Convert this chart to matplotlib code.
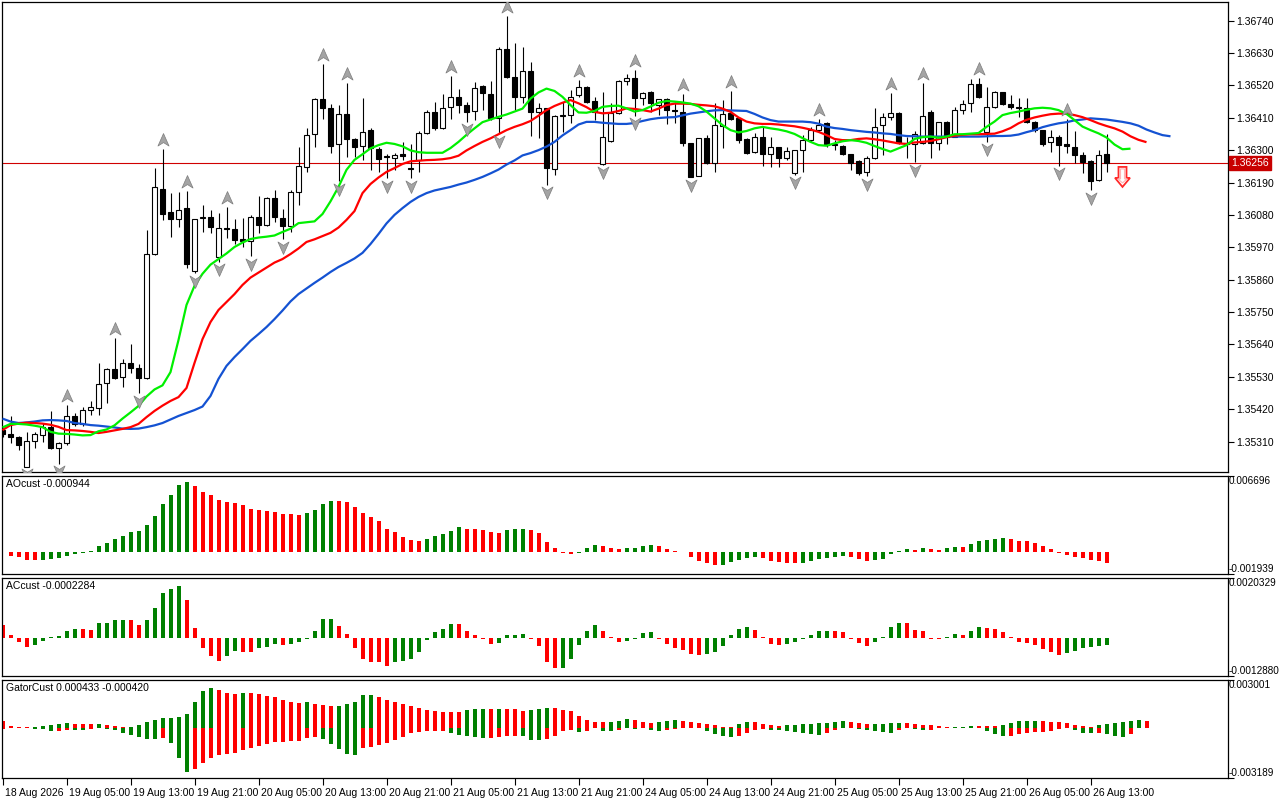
import matplotlib
matplotlib.use('Agg')
import matplotlib.pyplot as plt
from matplotlib.path import Path
from matplotlib.patches import Polygon
import matplotlib.transforms as mtransforms
import numpy as np

# ---------------- DATA ----------------
opens = [1.35349,1.35336,1.35325,1.35225,1.35313,1.35333,1.35359,1.35287,1.35304,1.35397,
 1.35370,1.35417,1.35423,1.35508,1.35557,1.35528,1.35578,1.35559,1.35525,1.35946,
 1.36167,1.36089,1.36065,1.36102,1.35890,1.36070,1.36072,1.35936,1.36035,1.36031,
 1.35998,1.35992,1.36074,1.36046,1.36136,1.36068,1.36042,1.36159,1.36244,1.36354,
 1.36474,1.36442,1.36320,1.36422,1.36337,1.36315,1.36368,1.36304,1.36279,1.36272,
 1.36287,1.36238,1.36267,1.36357,1.36429,1.36374,1.36446,1.36482,1.36453,1.36433,
 1.36518,1.36490,1.36408,1.36643,1.36547,1.36482,1.36570,1.36431,1.36442,1.36235,
 1.36417,1.36419,1.36487,1.36513,1.36467,1.36253,1.36331,1.36425,1.36536,1.36544,
 1.36476,1.36496,1.36453,1.36473,1.36435,1.36431,1.36323,1.36213,1.36340,1.36255,
 1.36383,1.36425,1.36408,1.36338,1.36295,1.36344,1.36286,1.36310,1.36274,1.36221,
 1.36300,1.36334,1.36368,1.36391,1.36321,1.36314,1.36286,1.36263,1.36225,1.36272,
 1.36385,1.36412,1.36425,1.36323,1.36320,1.36323,1.36429,1.36323,1.36397,1.36346,
 1.36436,1.36459,1.36524,1.36361,1.36446,1.36496,1.36456,1.36448,1.36442,1.36397,
 1.36368,1.36327,1.36346,1.36320,1.36312,1.36283,1.36263,1.36197,1.36286]
highs = [1.35363,1.35397,1.35329,1.35344,1.35344,1.35374,1.35415,1.35310,1.35434,1.35406,
 1.35426,1.35448,1.35578,1.35559,1.35661,1.35589,1.35641,1.35573,1.36029,1.36238,
 1.36303,1.36153,1.36159,1.36161,1.36067,1.36114,1.36097,1.36085,1.36108,1.36065,
 1.36068,1.36080,1.36144,1.36142,1.36165,1.36099,1.36165,1.36312,1.36374,1.36476,
 1.36593,1.36457,1.36453,1.36527,1.36340,1.36476,1.36376,1.36312,1.36287,1.36289,
 1.36329,1.36321,1.36365,1.36436,1.36465,1.36490,1.36552,1.36507,1.36465,1.36532,
 1.36520,1.36535,1.36651,1.36756,1.36663,1.36651,1.36600,1.36459,1.36444,1.36419,
 1.36465,1.36504,1.36538,1.36518,1.36482,1.36499,1.36459,1.36538,1.36559,1.36572,
 1.36499,1.36502,1.36475,1.36476,1.36465,1.36491,1.36325,1.36342,1.36351,1.36459,
 1.36470,1.36502,1.36414,1.36340,1.36357,1.36380,1.36344,1.36312,1.36310,1.36302,
 1.36351,1.36380,1.36405,1.36397,1.36334,1.36317,1.36287,1.36267,1.36280,1.36442,
 1.36425,1.36493,1.36430,1.36346,1.36365,1.36527,1.36436,1.36397,1.36399,1.36448,
 1.36470,1.36542,1.36546,1.36516,1.36501,1.36499,1.36487,1.36476,1.36476,1.36399,
 1.36370,1.36368,1.36351,1.36406,1.36365,1.36295,1.36265,1.36300,1.36355]
lows = [1.35326,1.35306,1.35281,1.35224,1.35288,1.35310,1.35285,1.35234,1.35298,1.35363,
 1.35363,1.35400,1.35400,1.35442,1.35522,1.35494,1.35544,1.35474,1.35522,1.35944,
 1.36063,1.36006,1.36040,1.35899,1.35882,1.36023,1.36020,1.35920,1.36001,1.35981,
 1.35972,1.35940,1.36018,1.36042,1.36057,1.35998,1.36023,1.36114,1.36227,1.36312,
 1.36405,1.36289,1.36195,1.36278,1.36278,1.36267,1.36233,1.36227,1.36204,1.36233,
 1.36267,1.36204,1.36227,1.36355,1.36368,1.36372,1.36405,1.36427,1.36397,1.36402,
 1.36436,1.36402,1.36357,1.36544,1.36436,1.36459,1.36348,1.36340,1.36182,1.36216,
 1.36363,1.36391,1.36480,1.36459,1.36402,1.36250,1.36329,1.36423,1.36521,1.36416,
 1.36453,1.36431,1.36419,1.36388,1.36391,1.36314,1.36208,1.36211,1.36253,1.36227,
 1.36306,1.36402,1.36323,1.36287,1.36289,1.36246,1.36244,1.36244,1.36267,1.36216,
 1.36227,1.36329,1.36363,1.36312,1.36300,1.36283,1.36233,1.36216,1.36212,1.36269,
 1.36284,1.36402,1.36321,1.36272,1.36259,1.36321,1.36272,1.36300,1.36320,1.36344,
 1.36422,1.36431,1.36478,1.36329,1.36442,1.36453,1.36440,1.36414,1.36391,1.36363,
 1.36315,1.36295,1.36247,1.36291,1.36256,1.36223,1.36163,1.36195,1.36226]
closes = [1.35336,1.35325,1.35298,1.35312,1.35336,1.35359,1.35287,1.35304,1.35397,1.35370,
 1.35417,1.35426,1.35505,1.35557,1.35525,1.35578,1.35559,1.35525,1.35946,1.36174,
 1.36082,1.36065,1.36097,1.35913,1.36065,1.36072,1.36038,1.36035,1.36031,1.35995,
 1.35991,1.36074,1.36046,1.36136,1.36072,1.36042,1.36159,1.36246,1.36351,1.36474,
 1.36442,1.36315,1.36422,1.36337,1.36312,1.36363,1.36306,1.36271,1.36277,1.36284,
 1.36280,1.36235,1.36357,1.36429,1.36376,1.36442,1.36482,1.36453,1.36429,1.36510,
 1.36493,1.36408,1.36643,1.36549,1.36482,1.36570,1.36431,1.36442,1.36238,1.36416,
 1.36419,1.36482,1.36513,1.36465,1.36431,1.36346,1.36425,1.36536,1.36544,1.36476,
 1.36493,1.36459,1.36473,1.36436,1.36433,1.36325,1.36210,1.36340,1.36255,1.36384,
 1.36423,1.36406,1.36334,1.36291,1.36344,1.36286,1.36310,1.36274,1.36297,1.36300,
 1.36334,1.36368,1.36385,1.36317,1.36317,1.36286,1.36257,1.36223,1.36274,1.36380,
 1.36412,1.36427,1.36323,1.36320,1.36354,1.36417,1.36323,1.36395,1.36346,1.36436,
 1.36456,1.36524,1.36482,1.36446,1.36496,1.36456,1.36448,1.36442,1.36397,1.36368,
 1.36320,1.36344,1.36317,1.36315,1.36283,1.36261,1.36195,1.36283,1.36256]

# Alligator lines (already shifted as displayed)
jaw = [1.35388,1.35378,1.35373,1.35375,1.35378,1.35382,1.35383,1.35382,1.35380,1.35373,
 1.35370,1.35366,1.35364,1.35361,1.35358,1.35354,1.35353,1.35354,1.35359,1.35365,
 1.35373,1.35385,1.35397,1.35407,1.35417,1.35429,1.35465,1.35523,1.35567,1.35597,
 1.35624,1.35652,1.35675,1.35699,1.35726,1.35755,1.35786,1.35811,1.35830,1.35849,
 1.35867,1.35886,1.35903,1.35917,1.35932,1.35951,1.35981,1.36015,1.36051,1.36080,
 1.36103,1.36124,1.36141,1.36154,1.36163,1.36169,1.36175,1.36183,1.36190,1.36199,
 1.36209,1.36221,1.36234,1.36251,1.36265,1.36282,1.36290,1.36300,1.36312,1.36328,
 1.36350,1.36368,1.36387,1.36396,1.36396,1.36393,1.36391,1.36389,1.36389,1.36392,
 1.36399,1.36405,1.36409,1.36411,1.36412,1.36418,1.36424,1.36428,1.36432,1.36435,
 1.36436,1.36435,1.36434,1.36433,1.36423,1.36411,1.36402,1.36397,1.36397,1.36397,
 1.36397,1.36395,1.36390,1.36380,1.36375,1.36372,1.36368,1.36365,1.36362,1.36360,
 1.36357,1.36355,1.36351,1.36348,1.36347,1.36346,1.36346,1.36346,1.36346,1.36346,
 1.36346,1.36346,1.36346,1.36347,1.36348,1.36348,1.36349,1.36353,1.36361,1.36368,
 1.36378,1.36385,1.36391,1.36395,1.36401,1.36404,1.36408,1.36406,1.36404,1.36400,
 1.36396,1.36391,1.36383,1.36370,1.36360,1.36351,1.36347]
teeth = [1.35349,1.35366,1.35371,1.35374,1.35373,1.35371,1.35367,1.35360,1.35349,1.35348,
 1.35346,1.35343,1.35339,1.35343,1.35348,1.35353,1.35359,1.35370,1.35393,1.35414,
 1.35432,1.35448,1.35461,1.35492,1.35577,1.35658,1.35716,1.35757,1.35784,1.35811,
 1.35842,1.35867,1.35884,1.35901,1.35918,1.35930,1.35947,1.35966,1.35988,1.35997,
 1.36008,1.36019,1.36037,1.36063,1.36093,1.36154,1.36185,1.36207,1.36226,1.36239,
 1.36253,1.36262,1.36264,1.36266,1.36267,1.36269,1.36273,1.36281,1.36299,1.36314,
 1.36328,1.36340,1.36354,1.36368,1.36379,1.36388,1.36399,1.36417,1.36436,1.36450,
 1.36461,1.36470,1.36459,1.36446,1.36430,1.36425,1.36427,1.36433,1.36442,1.36440,
 1.36436,1.36431,1.36441,1.36453,1.36458,1.36458,1.36457,1.36454,1.36452,1.36449,
 1.36441,1.36430,1.36411,1.36397,1.36391,1.36389,1.36389,1.36387,1.36384,1.36381,
 1.36376,1.36370,1.36362,1.36351,1.36338,1.36334,1.36334,1.36338,1.36340,1.36337,
 1.36333,1.36328,1.36323,1.36321,1.36326,1.36328,1.36331,1.36337,1.36344,1.36349,
 1.36352,1.36354,1.36354,1.36355,1.36356,1.36364,1.36375,1.36391,1.36403,1.36411,
 1.36417,1.36422,1.36424,1.36424,1.36419,1.36412,1.36402,1.36391,1.36382,1.36374,
 1.36363,1.36347,1.36335,1.36327]
lips = [1.35358,1.35370,1.35370,1.35368,1.35364,1.35359,1.35343,1.35337,1.35336,1.35334,
 1.35331,1.35332,1.35345,1.35351,1.35365,1.35388,1.35409,1.35431,1.35463,1.35487,
 1.35501,1.35546,1.35655,1.35774,1.35839,1.35880,1.35911,1.35930,1.35949,1.35971,
 1.35986,1.35998,1.36003,1.36006,1.36010,1.36022,1.36033,1.36052,1.36055,1.36058,
 1.36083,1.36126,1.36175,1.36233,1.36267,1.36286,1.36306,1.36317,1.36325,1.36321,
 1.36313,1.36299,1.36293,1.36291,1.36291,1.36291,1.36307,1.36328,1.36352,1.36374,
 1.36395,1.36404,1.36413,1.36421,1.36431,1.36441,1.36475,1.36496,1.36509,1.36501,
 1.36481,1.36453,1.36428,1.36427,1.36433,1.36447,1.36450,1.36451,1.36442,1.36431,
 1.36436,1.36448,1.36461,1.36467,1.36465,1.36462,1.36458,1.36449,1.36431,1.36408,
 1.36385,1.36368,1.36360,1.36365,1.36374,1.36379,1.36374,1.36370,1.36364,1.36355,
 1.36341,1.36328,1.36317,1.36315,1.36323,1.36330,1.36334,1.36331,1.36325,1.36314,
 1.36304,1.36295,1.36306,1.36317,1.36338,1.36344,1.36346,1.36342,1.36346,1.36354,
 1.36354,1.36356,1.36358,1.36379,1.36397,1.36419,1.36426,1.36431,1.36437,1.36442,
 1.36444,1.36442,1.36436,1.36423,1.36402,1.36380,1.36368,1.36357,1.36343,1.36319,
 1.36303,1.36305]

up_fractals = [8, 14, 20, 23, 28, 40, 43, 56, 63, 72, 79, 85, 91, 102, 111, 115, 122, 133]
down_fractals = [3, 7, 17, 24, 27, 31, 35, 42, 48, 51, 58, 62, 68, 75, 79, 86, 99, 108, 114, 123, 132, 136]

ao = [-0.00003,-0.00036,-0.00045,-0.00068,-0.00072,-0.00070,-0.00063,-0.00057,-0.00036,-0.00018,
 -0.00009,0.00012,0.00051,0.00081,0.00117,0.00144,0.00180,0.00189,0.00234,0.00315,
 0.00423,0.00504,0.00594,0.00621,0.00585,0.00531,0.00504,0.00459,0.00441,0.00432,
 0.00414,0.00378,0.00369,0.00360,0.00351,0.00333,0.00332,0.00324,0.00342,0.00369,
 0.00423,0.00450,0.00449,0.00441,0.00396,0.00342,0.00306,0.00270,0.00207,0.00180,
 0.00135,0.00108,0.00099,0.00117,0.00144,0.00162,0.00189,0.00216,0.00207,0.00205,
 0.00198,0.00180,0.00171,0.00198,0.00200,0.00207,0.00198,0.00171,0.00090,0.00036,
 -0.00006,-0.00015,-0.00006,0.00036,0.00063,0.00054,0.00036,0.00027,0.00036,0.00037,
 0.00054,0.00063,0.00054,0.00027,0.00009,0.00002,-0.00045,-0.00081,-0.00099,-0.00117,
 -0.00115,-0.00090,-0.00072,-0.00054,-0.00045,-0.00054,-0.00081,-0.00087,-0.00099,-0.00100,
 -0.00098,-0.00081,-0.00063,-0.00054,-0.00045,-0.00036,-0.00045,-0.00063,-0.00081,-0.00072,
 -0.00063,-0.00018,0.00006,0.00027,0.00018,0.00036,0.00027,0.00018,0.00036,0.00045,
 0.00044,0.00072,0.00099,0.00108,0.00117,0.00126,0.00117,0.00099,0.00098,0.00081,
 0.00054,0.00027,-0.00006,-0.00027,-0.00045,-0.00054,-0.00072,-0.00081,-0.000944]
ac = [0.00043,0.00009,-0.00014,-0.00031,-0.00025,-0.00011,0.00003,0.00007,0.00023,0.00030,
 0.00029,0.00028,0.00050,0.00051,0.00060,0.00061,0.00060,0.00043,0.00060,0.00103,
 0.00153,0.00167,0.00177,0.00129,0.00033,-0.00034,-0.00062,-0.00079,-0.00062,-0.00044,
 -0.00048,-0.00049,-0.00034,-0.00031,-0.00021,-0.00024,-0.00021,-0.00014,-0.00003,0.00023,
 0.00064,0.00065,0.00040,0.00013,-0.00034,-0.00072,-0.00082,-0.00083,-0.00096,-0.00081,
 -0.00078,-0.00071,-0.00047,-0.00006,0.00021,0.00031,0.00048,0.00047,0.00024,0.00010,
 -0.00002,-0.00019,-0.00018,0.00010,0.00011,0.00012,-0.00002,-0.00026,-0.00081,-0.00102,
 -0.00101,-0.00071,-0.00023,0.00024,0.00044,0.00024,0.00002,-0.00013,-0.00009,-0.00002,
 0.00017,0.00021,-0.00002,-0.00019,-0.00033,-0.00040,-0.00054,-0.00057,-0.00054,-0.00047,
 -0.00026,0.00010,0.00031,0.00038,0.00027,0.00003,-0.00019,-0.00023,-0.00022,-0.00013,
 -0.00002,0.00010,0.00024,0.00025,0.00024,0.00021,-0.00002,-0.00016,-0.00026,-0.00013,
 0.00003,0.00038,0.00051,0.00050,0.00027,0.00024,-0.00002,-0.00003,0.00003,0.00014,
 0.00010,0.00024,0.00038,0.00034,0.00031,0.00021,0.00003,-0.00013,-0.00016,-0.00023,
 -0.00037,-0.00047,-0.00057,-0.00050,-0.00043,-0.00033,-0.00032,-0.00026,-0.0002284]

bid_price = 1.36256
signal_bar = [140]
signal_top = [1.36243]

price_ticks = [1.35310,1.35420,1.35530,1.35640,1.35750,1.35860,1.35970,
               1.36080,1.36190,1.36300,1.36410,1.36520,1.36630,1.36740]
ao_range = (-0.001939, 0.006696)
ac_range = (-0.0012880, 0.0020329)
gator_range = (-0.003189, 0.003001)
ao_labels = ("-0.001939", "0.006696")
ac_labels = ("-0.0012880", "0.0020329")
gator_labels = ("-0.003189", "0.003001")
time_tick_idx = list(range(0, 137, 8))
time_tick_labels = ["18 Aug 2026", "19 Aug 05:00", "19 Aug 13:00", "19 Aug 21:00",
                    "20 Aug 05:00", "20 Aug 13:00", "20 Aug 21:00", "21 Aug 05:00",
                    "21 Aug 13:00", "21 Aug 21:00", "24 Aug 05:00", "24 Aug 13:00",
                    "24 Aug 21:00", "25 Aug 05:00", "25 Aug 13:00", "25 Aug 21:00",
                    "26 Aug 05:00", "26 Aug 13:00"]
gator_title = "GatorCust 0.000433 -0.000420"

# ---------------- LAYOUT ----------------
plt.rcParams['font.family'] = ['Liberation Sans', 'DejaVu Sans']
W, H = 1280, 800
fig = plt.figure(figsize=(12.8, 8.0), dpi=100)
fig.patch.set_facecolor('white')

def rect(top, bottom, left=2, right=1228):
    return [left / W, 1 - bottom / H, (right - left) / W, (bottom - top) / H]

ax = fig.add_axes(rect(2, 472))
ax_ao = fig.add_axes(rect(476, 574), sharex=ax)
ax_ac = fig.add_axes(rect(578, 676), sharex=ax)
ax_g = fig.add_axes(rect(680, 778), sharex=ax)

PX_BAR = 8.0
PX_PRICE = 3.397e-5
Y0 = 1.36810
FS = 7.5
FS_SUB = 7.2

for a in (ax, ax_ao, ax_ac, ax_g):
    a.set_facecolor('white')
    for s in a.spines.values():
        s.set_color('black')
        s.set_linewidth(0.9)
    a.tick_params(axis='x', which='both', bottom=False, labelbottom=False)

ax.set_xlim(-0.0625, (1228 - 2.5) / PX_BAR)
ax.set_ylim(Y0 - 472 * PX_PRICE, Y0 - 2 * PX_PRICE)

# ---------------- CANDLES ----------------
n = len(opens)
idx = np.arange(n)
o = np.array(opens); h = np.array(highs); l = np.array(lows); c = np.array(closes)
ax.vlines(idx, l, h, color='black', lw=0.8, zorder=2)
bull = c >= o
body_bottom = np.minimum(o, c)
body_h = np.maximum(np.abs(c - o), 0.6 * PX_PRICE)
ax.bar(idx[bull], body_h[bull], bottom=body_bottom[bull], width=0.6,
       color='white', edgecolor='black', linewidth=0.8, zorder=3)
ax.bar(idx[~bull], body_h[~bull], bottom=body_bottom[~bull], width=0.6,
       color='black', edgecolor='black', linewidth=0.8, zorder=3)

# bid line
ax.axhline(bid_price, color='#D00000', lw=0.8, zorder=1.5)
ax.text(1.0 + 3 / 1226, bid_price, f"{bid_price:.5f}", transform=ax.get_yaxis_transform(),
        ha='left', va='center', color='white', fontsize=FS, zorder=10, clip_on=False,
        bbox=dict(boxstyle='square,pad=0.22', fc='#C80000', ec='#C80000'))

# alligator
ax.plot(np.arange(len(jaw)), jaw, color='#1452D2', lw=1.6, zorder=4, solid_capstyle='butt')
ax.plot(np.arange(len(teeth)), teeth, color='#FF0000', lw=1.6, zorder=4, solid_capstyle='butt')
ax.plot(np.arange(len(lips)), lips, color='#00F000', lw=1.6, zorder=4, solid_capstyle='butt')

# fractals
up_path = Path([(0, 1), (0.8, -0.8), (0, -0.3), (-0.8, -0.8), (0, 1)],
               [Path.MOVETO, Path.LINETO, Path.LINETO, Path.LINETO, Path.CLOSEPOLY])
dn_path = Path([(0, -1), (0.8, 0.8), (0, 0.3), (-0.8, 0.8), (0, -1)],
               [Path.MOVETO, Path.LINETO, Path.LINETO, Path.LINETO, Path.CLOSEPOLY])
ax.plot(up_fractals, h[up_fractals] + 9 * PX_PRICE, ls='none', marker=up_path, ms=10,
        mfc='#A4A4A4', mec='#7C7C7C', mew=0.5, zorder=6)
ax.plot(down_fractals, l[down_fractals] - 7.5 * PX_PRICE, ls='none', marker=dn_path, ms=10,
        mfc='#A4A4A4', mec='#7C7C7C', mew=0.5, zorder=6)

# sell signal arrow
for sx, sy in zip(signal_bar, signal_top):
    shaft = 4 / PX_BAR; head = 7.5 / PX_BAR
    y_head = sy - 11 * PX_PRICE; y_tip = sy - 20 * PX_PRICE
    verts = [(sx - shaft, sy), (sx + shaft, sy), (sx + shaft, y_head), (sx + head, y_head),
             (sx, y_tip), (sx - head, y_head), (sx - shaft, y_head)]
    ax.add_patch(Polygon(verts, closed=True, fc='white', ec='#FF2A2A', lw=1.3, zorder=7))
    s2 = 2 / PX_BAR; h2 = 4.5 / PX_BAR
    verts2 = [(sx - s2, sy - 2 * PX_PRICE), (sx + s2, sy - 2 * PX_PRICE), (sx + s2, y_head - 1 * PX_PRICE),
              (sx + h2, y_head - 1 * PX_PRICE), (sx, y_tip + 4 * PX_PRICE), (sx - h2, y_head - 1 * PX_PRICE),
              (sx - s2, y_head - 1 * PX_PRICE)]
    ax.add_patch(Polygon(verts2, closed=True, fc='white', ec='#FFB4B4', lw=0.8, zorder=7))

# price axis
ax.yaxis.tick_right()
ax.set_yticks(price_ticks)
ax.set_yticklabels([f"{p:.5f}" for p in price_ticks])
ax.tick_params(axis='y', direction='out', length=4, width=0.8, labelsize=FS, pad=2, colors='black')

# ---------------- SUB PANELS ----------------
def colors_for(vals):
    cols = []
    for i, v in enumerate(vals):
        prev = vals[i - 1] if i > 0 else v
        cols.append('#008000' if v > prev else '#FF0000')
    return cols

def setup_sub(a, yr, labels, title):
    a.set_ylim(*yr)
    a.yaxis.tick_right()
    a.set_yticks(list(yr))
    a.set_yticklabels(['', ''])
    a.tick_params(axis='y', direction='out', length=4, width=0.8)
    tr = a.get_yaxis_transform()
    a.text(1.0 + 1 / 1226, yr[1], labels[1], transform=tr, ha='left', va='top',
           fontsize=FS_SUB, clip_on=False)
    a.text(1.0 + 1 / 1226, yr[0], labels[0], transform=tr, ha='left', va='bottom',
           fontsize=FS_SUB, clip_on=False)
    a.text(4 / 1226, 1 - 3 / 98, title, transform=a.transAxes, ha='left', va='top', fontsize=FS)

ax_ao.bar(np.arange(len(ao)), ao, width=0.5, color=colors_for(ao), linewidth=0)
setup_sub(ax_ao, ao_range, ao_labels, f"AOcust {ao[-1]:.6f}")

ax_ac.bar(np.arange(len(ac)), ac, width=0.5, color=colors_for(ac), linewidth=0)
setup_sub(ax_ac, ac_range, ac_labels, f"ACcust {ac[-1]:.7f}")

m_up = min(len(jaw), len(teeth))
gator_up = [abs(jaw[i] - teeth[i]) for i in range(m_up)]
m_dn = min(len(teeth), len(lips))
gator_dn = [-abs(teeth[i] - lips[i]) for i in range(m_dn)]
up_cols = colors_for(gator_up)
dn_abs = [abs(v) for v in gator_dn]
dn_cols = colors_for(dn_abs)
ax_g.bar(np.arange(m_up), gator_up, width=0.5, color=up_cols, linewidth=0)
ax_g.bar(np.arange(m_dn), gator_dn, width=0.5, color=dn_cols, linewidth=0)
setup_sub(ax_g, gator_range, gator_labels, gator_title)

# time axis
ax_g.tick_params(axis='x', which='both', bottom=True, labelbottom=True, direction='out',
                 length=5, width=0.8, labelsize=FS, pad=2)
ax_g.set_xticks(time_tick_idx)
ax_g.set_xticklabels(time_tick_labels)
offset = mtransforms.ScaledTranslation(2 / 72, 0, fig.dpi_scale_trans)
for lab in ax_g.get_xticklabels():
    lab.set_horizontalalignment('left')
    lab.set_transform(lab.get_transform() + offset)

fig.savefig('out.png', dpi=100, facecolor='white')
